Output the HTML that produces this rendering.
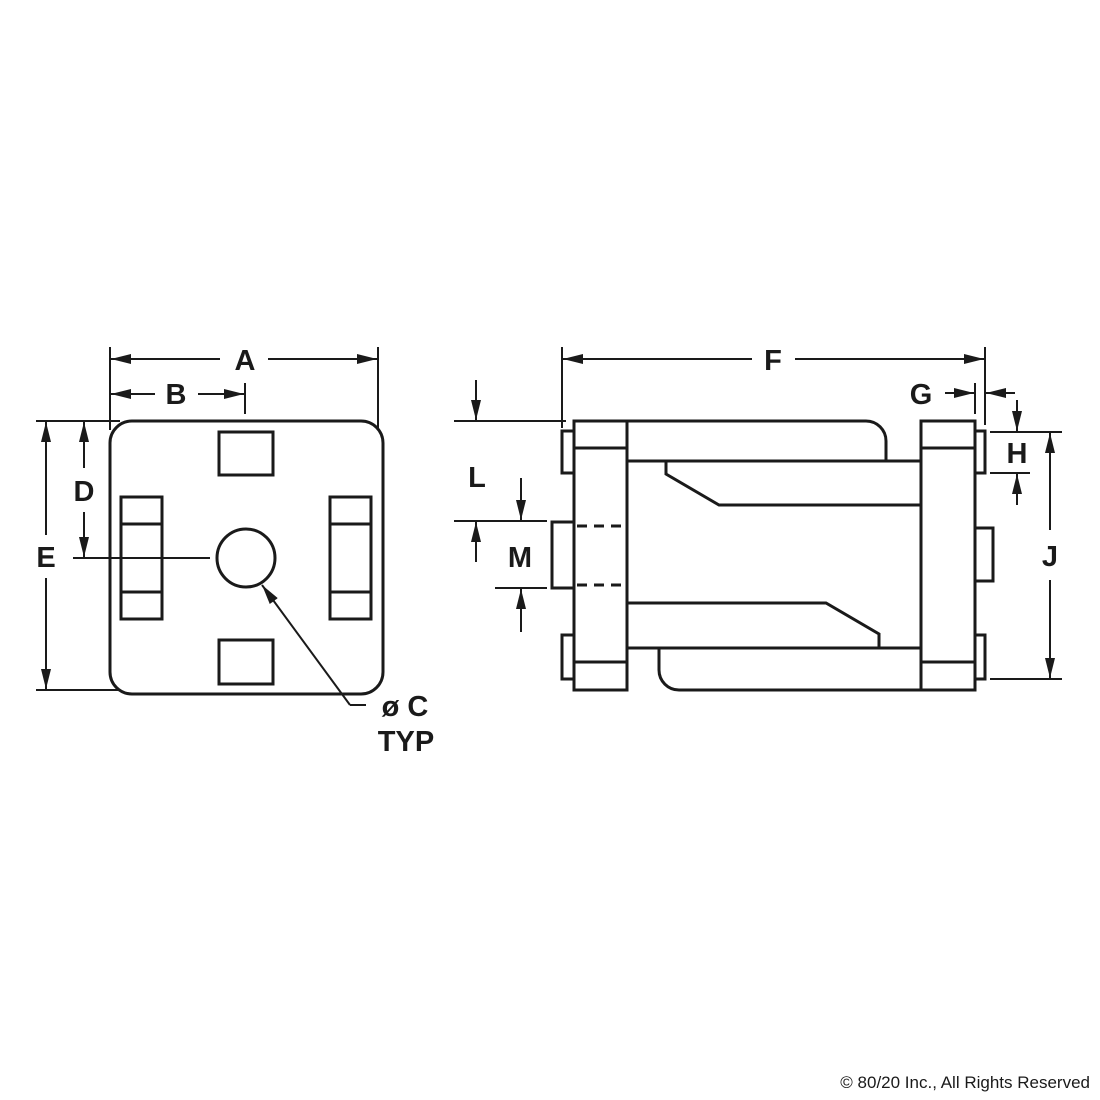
<!DOCTYPE html>
<html><head><meta charset="utf-8"><style>
html,body{margin:0;padding:0;background:#fff;}
svg{display:block;}
text{font-family:"Liberation Sans",Arial,sans-serif;fill:#1a1a1a;}
</style></head><body>
<svg width="1100" height="1100" viewBox="0 0 1100 1100" xmlns="http://www.w3.org/2000/svg">
<defs>
<marker id="ar" viewBox="0 0 20 10" refX="20" refY="5" markerWidth="20" markerHeight="10" markerUnits="userSpaceOnUse" orient="auto">
<path d="M0,0 L20,5 L0,10 z" fill="#1a1a1a"/></marker>
</defs>
<g stroke="#1a1a1a" stroke-width="3" fill="none">
<!-- LEFT VIEW -->
<rect x="110" y="421" width="273" height="273" rx="22"/>
<rect x="219" y="432" width="54" height="43"/>
<rect x="219" y="640" width="54" height="44"/>
<rect x="121" y="497" width="41" height="122"/>
<line x1="121" y1="524" x2="162" y2="524"/><line x1="121" y1="592" x2="162" y2="592"/>
<rect x="330" y="497" width="41" height="122"/>
<line x1="330" y1="524" x2="371" y2="524"/><line x1="330" y1="592" x2="371" y2="592"/>
<circle cx="246" cy="558" r="29"/>
<g stroke-width="2">
<line x1="110" y1="347" x2="110" y2="430"/><line x1="378" y1="347" x2="378" y2="430"/>
<line x1="220" y1="359" x2="111" y2="359" marker-end="url(#ar)"/>
<line x1="268" y1="359" x2="377" y2="359" marker-end="url(#ar)"/>
<line x1="245" y1="383" x2="245" y2="414"/>
<line x1="155" y1="394" x2="111" y2="394" marker-end="url(#ar)"/>
<line x1="198" y1="394" x2="244" y2="394" marker-end="url(#ar)"/>
<line x1="36" y1="421" x2="120" y2="421"/><line x1="36" y1="690" x2="120" y2="690"/>
<line x1="46" y1="535" x2="46" y2="422" marker-end="url(#ar)"/>
<line x1="46" y1="578" x2="46" y2="689" marker-end="url(#ar)"/>
<line x1="84" y1="468" x2="84" y2="422" marker-end="url(#ar)"/>
<line x1="84" y1="512" x2="84" y2="557" marker-end="url(#ar)"/>
<line x1="73" y1="558" x2="210" y2="558"/>
<line x1="366" y1="705" x2="350" y2="705"/>
<line x1="350" y1="705" x2="262" y2="585" marker-end="url(#ar)"/>
</g>

<!-- RIGHT VIEW -->
<rect x="574" y="421" width="53" height="269"/>
<line x1="574" y1="448" x2="627" y2="448"/><line x1="574" y1="662" x2="627" y2="662"/>
<rect x="921" y="421" width="54" height="269"/>
<line x1="921" y1="448" x2="975" y2="448"/><line x1="921" y1="662" x2="975" y2="662"/>
<rect x="562" y="431" width="12" height="42"/>
<rect x="562" y="635" width="12" height="44"/>
<rect x="975" y="431" width="10" height="42"/>
<rect x="975" y="635" width="10" height="44"/>
<polyline points="574,522 552,522 552,588 574,588"/>
<polyline points="975,528 993,528 993,581 975,581"/>
<line x1="577" y1="526" x2="627" y2="526" stroke-dasharray="10,7"/>
<line x1="577" y1="585" x2="627" y2="585" stroke-dasharray="10,7"/>
<path d="M627,421 H866 A20,20 0 0 1 886,441 V461"/>
<line x1="627" y1="461" x2="921" y2="461"/>
<polyline points="666,461 666,474 719,505 921,505"/>
<polyline points="627,603 826,603 879,634 879,648"/>
<line x1="627" y1="648" x2="921" y2="648"/>
<path d="M659,648 V670 A20,20 0 0 0 679,690 H921"/>
<g stroke-width="2">
<line x1="562" y1="347" x2="562" y2="428"/><line x1="985" y1="347" x2="985" y2="425"/>
<line x1="752" y1="359" x2="563" y2="359" marker-end="url(#ar)"/>
<line x1="795" y1="359" x2="984" y2="359" marker-end="url(#ar)"/>
<line x1="975" y1="383" x2="975" y2="414"/>
<line x1="945" y1="393" x2="974" y2="393" marker-end="url(#ar)"/>
<line x1="1015" y1="393" x2="986" y2="393" marker-end="url(#ar)"/>
<line x1="990" y1="432" x2="1062" y2="432"/><line x1="990" y1="473" x2="1030" y2="473"/>
<line x1="1017" y1="400" x2="1017" y2="431" marker-end="url(#ar)"/>
<line x1="1017" y1="505" x2="1017" y2="474" marker-end="url(#ar)"/>
<line x1="990" y1="679" x2="1062" y2="679"/>
<line x1="1050" y1="530" x2="1050" y2="433" marker-end="url(#ar)"/>
<line x1="1050" y1="580" x2="1050" y2="678" marker-end="url(#ar)"/>
<line x1="454" y1="421" x2="566" y2="421"/>
<line x1="476" y1="380" x2="476" y2="420" marker-end="url(#ar)"/>
<line x1="454" y1="521" x2="547" y2="521"/>
<line x1="521" y1="478" x2="521" y2="520" marker-end="url(#ar)"/>
<line x1="476" y1="562" x2="476" y2="522" marker-end="url(#ar)"/>
<line x1="495" y1="588" x2="547" y2="588"/>
<line x1="521" y1="632" x2="521" y2="589" marker-end="url(#ar)"/>
</g>
</g>
<g font-size="29" text-anchor="middle" font-weight="bold">
<text x="245" y="370">A</text>
<text x="176" y="404">B</text>
<text x="46" y="567">E</text>
<text x="84" y="501">D</text>
<text x="405" y="716">ø C</text>
<text x="406" y="751">TYP</text>
<text x="773" y="370">F</text>
<text x="921" y="404">G</text>
<text x="1017" y="463">H</text>
<text x="1050" y="566">J</text>
<text x="477" y="487">L</text>
<text x="520" y="567">M</text>
</g>
<text x="1090" y="1088" font-size="17" text-anchor="end">© 80/20 Inc., All Rights Reserved</text>
</svg>
</body></html>
